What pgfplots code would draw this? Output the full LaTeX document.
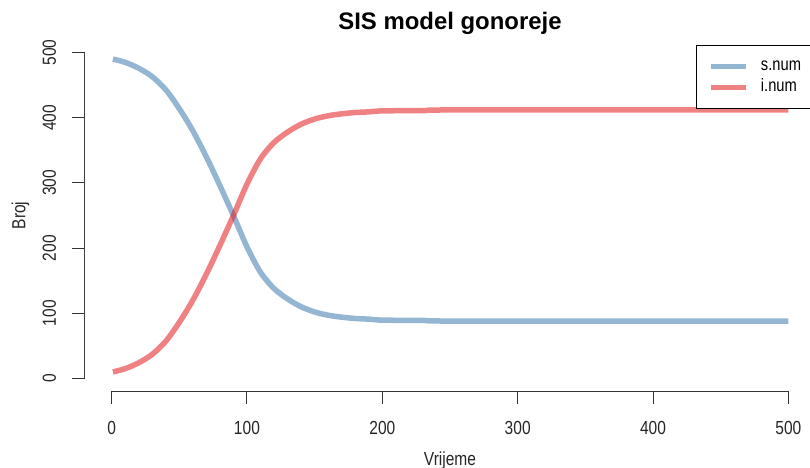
\documentclass[border=0pt]{standalone}
\usepackage{pgfplots}
\pgfplotsset{compat=1.18}
\usepackage{pgfplotstable}
\usepackage{fontspec}
\setmainfont{Liberation Sans}
\newfontfamily\narrowfont[FakeStretch=0.82]{Liberation Sans}

\definecolor{snum}{RGB}{70,130,180}
\definecolor{inum}{RGB}{228,26,28}

% SIS model: susceptible (s.num) and infected (i.num) over time
\pgfplotstableread{
t   s    i
1   490  10
10  485  15
20  476  24
30  463  37
40  443  57
50  414  86
60  380  120
70  340  160
80  296  204
90  250  250
100 202  298
110 163  337
120 138  362
130 122  378
140 110  390
150 102  398
160 97   403
170 94   406
180 92   408
190 91   409
200 89.5 410.5
230 89   411
260 88   412
500 88   412
}\sisdata

\begin{document}
\begin{tikzpicture}
\begin{axis}[
    at={(84.5bp,76.5bp)}, anchor=south west,
    scale only axis, width=731bp, height=352bp,
    xmin=-20, xmax=520, ymin=-20, ymax=520,
    clip=false,
    axis x line*=bottom, axis y line*=left,
    axis line style={black!80, line width=1bp, -},
    x axis line style={shorten <=27.07bp, shorten >=27.07bp},
    y axis line style={draw=none},
    tick align=outside, major tick length=12bp,
    tick style={black!80, line width=1bp},
    xtick={0,100,...,500}, ytick={0,100,...,500},
    /pgf/number format/assume math mode=true,
    ticklabel style={font=\narrowfont\fontsize{19}{21}\selectfont, text=black!85},
    yticklabel style={rotate=90, anchor=south},
    xticklabel shift=14bp, yticklabel shift=13bp,
    title={SIS model gonoreje},
    title style={font=\bfseries\fontsize{24}{26}\selectfont, at={(axis description cs:0.5,1.028)}, anchor=center},
    xlabel={Vrijeme}, ylabel={Broj},
    xlabel style={font=\narrowfont\fontsize{19}{21}\selectfont, text=black!85, at={(axis description cs:0.5,-0.195)}, anchor=center},
    ylabel style={font=\narrowfont\fontsize{19}{21}\selectfont, text=black!85, at={(axis description cs:-0.0875,0.5)}, anchor=center},
    legend style={at={(1,0.985)}, anchor=north east, draw=black, line width=1bp,
        inner xsep=12bp, inner ysep=11bp, row sep=1bp, column sep=10bp,
        font=\narrowfont\fontsize{18}{20}\selectfont,
        nodes={inner sep=2bp, text height=12bp, text depth=4bp}},
    legend cell align=left,
    legend image code/.code={\draw[#1, line width=5.5bp] (0bp,0bp) -- (35bp,0bp);},
]
\addplot[snum, draw opacity=0.58, line width=5.5bp, smooth] table[x=t, y=s] {\sisdata};
\addlegendentry{s.num}
\addplot[inum, draw opacity=0.55, line width=5.5bp, smooth] table[x=t, y=i] {\sisdata};
\addlegendentry{i.num}
\end{axis}
% R-style y axis line, from tick 0 to tick 500
\draw[black!75, line width=1.4bp] (84.5bp,89.54bp) -- (84.5bp,415.46bp);
\pgfresetboundingbox
\useasboundingbox (0,0) rectangle (810bp,468bp);
\end{tikzpicture}
\end{document}
